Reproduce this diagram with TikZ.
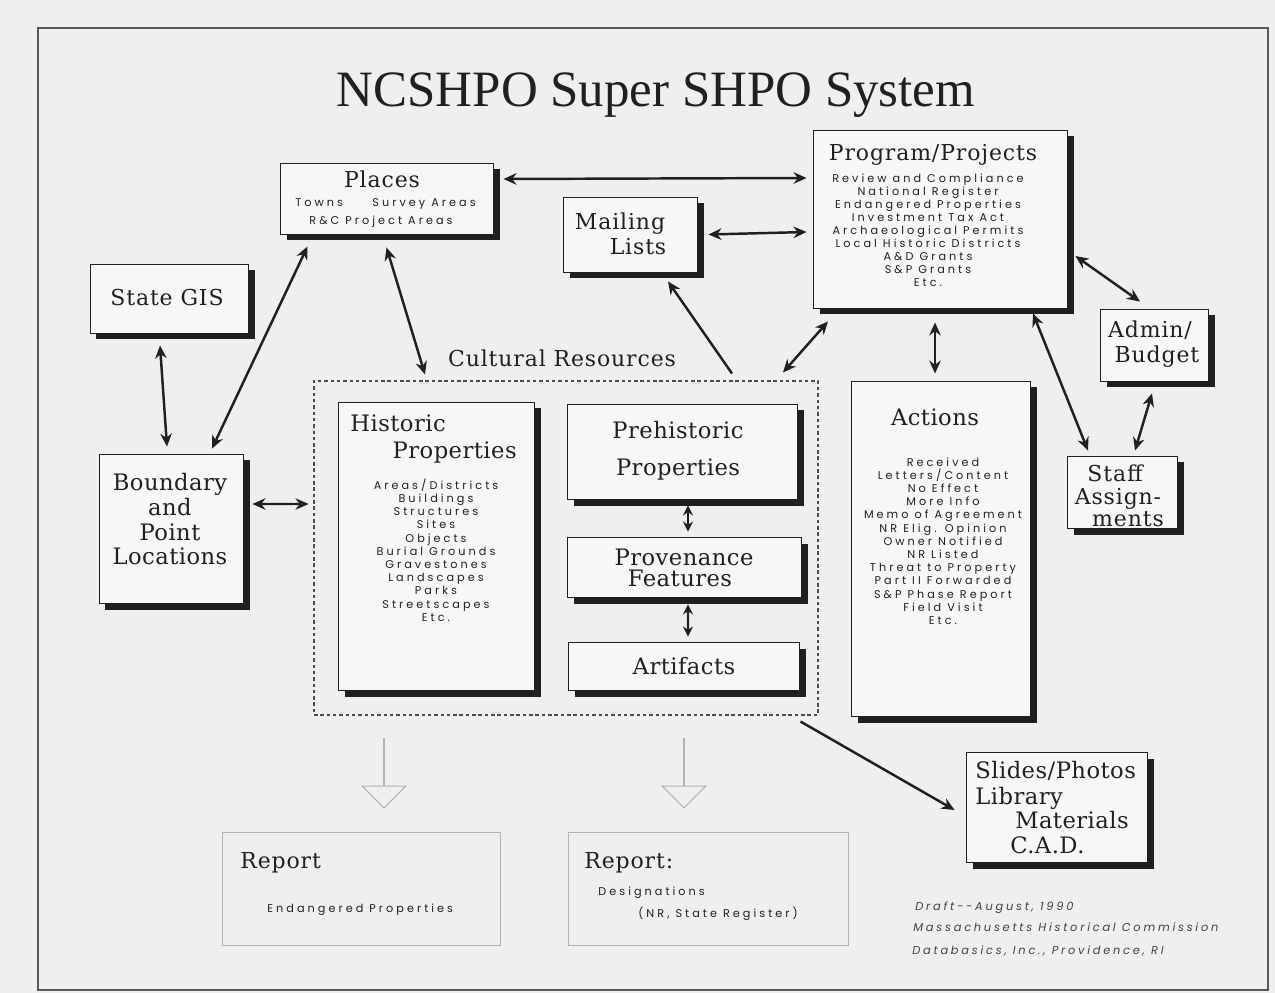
\documentclass[tikz,border=0pt]{standalone}
\usepackage{fontspec}
\usetikzlibrary{arrows.meta,shadows,fit,calc}
\newfontfamily\ttlfont{Liberation Serif}
\newfontfamily\hdfont[LetterSpace=4]{DejaVu Serif}
\newfontfamily\bgfont[LetterSpace=2]{DejaVu Serif}
\newfontfamily\smfont[LetterSpace=27]{Poppins}
\newfontfamily\ftfont[LetterSpace=24]{Poppins}
\definecolor{paper}{RGB}{239,239,239}
\definecolor{boxfill}{RGB}{247,247,247}
\definecolor{ink}{RGB}{32,32,32}
\definecolor{faint}{RGB}{178,178,178}
\tikzset{
 box/.style={draw=ink, line width=0.5pt, fill=boxfill, inner sep=0pt,
   drop shadow={shadow xshift=1.3mm, shadow yshift=-1.3mm, fill=ink, opacity=1}},
 rbox/.style={draw=faint, line width=0.5pt, inner sep=0pt},
 tip/.tip={Stealth[length=2.6mm,width=2.3mm]},
 stip/.tip={Stealth[length=2mm,width=2mm]},
 conn/.style={draw=ink, line width=1.4pt, tip-tip},
 sconn/.style={draw=ink, line width=1.4pt, stip-stip},
 oneway/.style={draw=ink, line width=1.4pt, -tip},
 hd/.style={font=\hdfont\fontsize{12.5}{15}\selectfont, text=ink, inner sep=0pt, yshift=-1mm},
 big/.style={font=\bgfont\fontsize{12.9}{16}\selectfont, text=ink, inner sep=0pt, yshift=-1mm},
 sm/.style={font=\smfont\fontsize{6.4}{7.5}\selectfont, text=ink, inner sep=0pt, align=center},
 ft/.style={font=\ftfont\itshape\fontsize{6.5}{8}\selectfont, text=ink!85, inner sep=0pt},
 down/.style={draw=faint, line width=0.6pt, -{Triangle[open,length=4.6mm,width=9.2mm]}},
}
\begin{document}
\begin{tikzpicture}[x=0.02cm,y=-0.02cm]
\useasboundingbox (0,0) rectangle (1275,993);
\fill[paper] (0,0) rectangle (1275,993);
\draw[ink!75, line width=0.6pt] (38,28) rectangle (1268,990);

\node[font=\ttlfont\fontsize{29}{34}\selectfont, anchor=base, text=ink, inner sep=0pt] (title) at (656,107) {NCSHPO Super SHPO System};

% boxes
\node[box, fit={(280,163) (493,234)}] (places) {};
\node[box, fit={(563,197) (697,272)}] (mailing) {};
\node[box, fit={(813,130) (1067,308)}] (program) {};
\node[box, fit={(90,264) (248,333)}] (gis) {};
\node[box, fit={(1100,309) (1208,381)}] (admin) {};
\node[box, fit={(1067,456) (1177,528)}] (staff) {};
\node[box, fit={(99,454) (243,603)}] (boundary) {};
\node[draw=ink!80, line width=0.6pt, dash pattern=on 2pt off 1.6pt, fit={(314,381) (818,715)}, inner sep=0pt] (cr) {};
\node[box, fit={(338,402) (534,690)}] (historic) {};
\node[box, fit={(567,404) (797,499)}] (prehist) {};
\node[box, fit={(567,537) (801,597)}] (proven) {};
\node[box, fit={(568,642) (799,690)}] (artifacts) {};
\node[box, fit={(851,381) (1030,716)}] (actions) {};
\node[box, fit={(966,752) (1147,862)}] (slides) {};
\node[rbox, fit={(222,832) (500,945)}] (report1) {};
\node[rbox, fit={(568,832) (848,945)}] (report2) {};

% texts
\node[hd, anchor=mid] (tPlaces) at (382,179) {Places};
\node[sm, anchor=mid west] (tTowns) at (295,203) {Towns};
\node[sm, anchor=mid east] (tSurvey) at (476,203) {Survey Areas};
\node[sm, anchor=mid] (tRC) at (381,221) {R\&C Project Areas};

\node[hd, anchor=mid] (tMailing) at (620,221) {Mailing};
\node[hd, anchor=mid] (tLists) at (638,246) {Lists};

\node[hd, anchor=mid] (tProgram) at (933,152) {Program/Projects};
\node[sm, font=\smfont\fontsize{6.4}{7.43}\selectfont] (tProgItems) at (928,230) {Review and Compliance\\National Register\\Endangered Properties\\Investment Tax Act\\Archaeological Permits\\Local Historic Districts\\A\&D Grants\\S\&P Grants\\Etc.};

\node[hd, anchor=mid] (tGIS) at (167,297) {State GIS};

\node[hd, anchor=mid] (tAdmin) at (1150,329) {Admin/};
\node[hd, anchor=mid] (tBudget) at (1157,354) {Budget};

\node[hd, anchor=mid] (tStaff) at (1115,473) {Staff};
\node[hd, anchor=mid] (tAssign) at (1118,496) {Assign-};
\node[hd, anchor=mid] (tments) at (1128,518) {ments};

\node[big, anchor=mid] (tB1) at (170,482) {Boundary};
\node[big, anchor=mid] (tB2) at (170,507) {and};
\node[big, anchor=mid] (tB3) at (170,532) {Point};
\node[big, anchor=mid] (tB4) at (170,556) {Locations};

\node[hd, anchor=mid] (tCR) at (562,358) {Cultural Resources};

\node[big, anchor=mid west] (tHist) at (350,423) {Historic};
\node[big, anchor=mid east] (tHistP) at (517,450) {Properties};
\node[sm, font=\smfont\fontsize{6.4}{7.54}\selectfont] (tHistItems) at (436,550) {Areas/Districts\\Buildings\\Structures\\Sites\\Objects\\Burial Grounds\\Gravestones\\Landscapes\\Parks\\Streetscapes\\Etc.};

\node[big, anchor=mid] (tPre) at (678,430) {Prehistoric};
\node[big, anchor=mid] (tPreP) at (678,467) {Properties};
\node[big, anchor=mid] (tProv) at (684,557) {Provenance};
\node[big, anchor=mid] (tFeat) at (680,578) {Features};
\node[big, anchor=mid] (tArt) at (684,666) {Artifacts};

\node[big, anchor=mid] (tActions) at (935,417) {Actions};
\node[sm, font=\smfont\fontsize{6.4}{7.51}\selectfont] (tActItems) at (943,541) {Received\\Letters/Content\\No Effect\\More Info\\Memo of Agreement\\NR Elig. Opinion\\Owner Notified\\NR Listed\\Threat to Property\\Part II Forwarded\\S\&P Phase Report\\Field Visit\\Etc.};

\node[big, anchor=mid west] (tS1) at (975,770) {Slides/Photos};
\node[big, anchor=mid west] (tS2) at (975,796) {Library};
\node[big, anchor=mid west] (tS3) at (1015,820) {Materials};
\node[big, anchor=mid west] (tS4) at (1010,845) {C.A.D.};

\node[hd, anchor=mid west] (tR1) at (240,860) {Report};
\node[sm, anchor=mid west] (tR1a) at (267,909) {Endangered Properties};
\node[hd, anchor=mid west] (tR2) at (584,860) {Report:};
\node[sm, anchor=mid west] (tR2a) at (598,892) {Designations};
\node[sm, anchor=mid west] (tR2b) at (638,914) {(NR, State Register)};

\node[ft, anchor=mid west] (f1) at (915,907) {Draft--August, 1990};
\node[ft, anchor=mid west] (f2) at (913,928) {Massachusetts Historical Commission};
\node[ft, anchor=mid west] (f3) at (912,951) {Databasics, Inc., Providence, RI};

% connectors
\draw[conn] ($(places.east)+(10,-19.5)$) -- ($(program.west)+(-6,-41)$);
\draw[conn] ($(mailing.east)+(11,0)$) -- ($(program.west)+(-6,13)$);
\draw[conn] ($(places.south)+(-79,12)$) -- ($(boundary.north)+(41,-5)$);
\draw[conn] ($(places.south)+(0,13)$) -- ($(cr.north)+(-141,-6)$);
\draw[conn] ($(gis.south)+(-9,12)$) -- ($(boundary.north)+(-4,-7)$);
\draw[conn] ($(boundary.east)+(9,-24.5)$) -- ($(cr.west)+(-5,-44)$);
\draw[oneway] ($(cr.north)+(166,-7)$) -- ($(mailing.south)+(38,9)$);
\draw[conn] ($(cr.north)+(217,-8)$) -- ($(program.south)+(-112,13)$);
\draw[conn] ($(program.south)+(-5,14)$) -- ($(actions.north)+(-5.5,-7)$);
\draw[conn] ($(program.east)+(8,37)$) -- ($(admin.north)+(-14,-7)$);
\draw[conn] ($(program.south)+(93,5)$) -- ($(staff.north)+(-34,-5)$);
\draw[conn] ($(admin.south)+(-2,12)$) -- ($(staff.north)+(13,-5)$);
\draw[sconn] ($(prehist.south)+(6,6)$) -- ($(proven.north)+(4,-5)$);
\draw[sconn] ($(proven.south)+(4,7)$) -- ($(artifacts.north)+(4.5,-5)$);
\draw[oneway] ($(cr.south east)+(-18,6)$) -- ($(slides.west)+(-11,3)$);

\draw[down] ($(cr.south)+(-182,22)$) -- ($(report1.north)+(23,-23)$);
\draw[down] ($(cr.south)+(118,22)$) -- ($(report2.north)+(-24,-23)$);
\end{tikzpicture}
\end{document}
